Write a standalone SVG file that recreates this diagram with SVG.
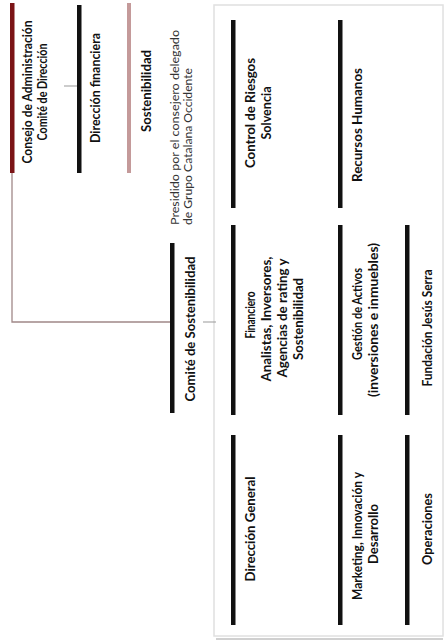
<svg xmlns="http://www.w3.org/2000/svg" width="445" height="642" viewBox="0 0 445 642">
<style>
text{font-family:Lato,"Open Sans","Liberation Sans",sans-serif;fill:#111;text-anchor:middle}
.b{font-weight:bold;font-size:13px}
.r{font-size:11.5px;text-anchor:start;fill:#333}
.bar{fill:#111}
.conn{stroke:#a08888;stroke-width:1.3;fill:none}
.tick{stroke:#999;stroke-width:1;fill:none}
</style>
<rect x="0" y="0" width="445" height="642" fill="#fff"/>
<g id="frame">
<rect x="214" y="5" width="229" height="631" fill="none" stroke="#e0e0e0" stroke-width="1.5"/>
<line x1="216" y1="639" x2="443" y2="639" stroke="#d0d0d0" stroke-width="2"/>
</g>
<g id="connectors">
<polyline class="conn" points="12,173 12,322 172,322"/>
<line class="tick" x1="64" y1="86" x2="78" y2="86"/>
<line class="tick" x1="203" y1="322" x2="216" y2="322"/>
</g>
<g id="consejo">
<rect x="10" y="3" width="4.5" height="170" fill="#7b1416"/>
<text class="b" transform="translate(31.5,92) rotate(-90)" textLength="143" lengthAdjust="spacingAndGlyphs">Consejo de Administración</text>
<text class="b" transform="translate(46.5,92) rotate(-90)" textLength="97" lengthAdjust="spacingAndGlyphs">Comité de Dirección</text>
</g>
<g id="direccion-financiera">
<rect class="bar" x="77" y="5" width="4.5" height="168"/>
<text class="b" transform="translate(99.5,88) rotate(-90)" textLength="110" lengthAdjust="spacingAndGlyphs">Dirección financiera</text>
</g>
<g id="sostenibilidad">
<rect x="127" y="3" width="4" height="170" fill="#c49a9a"/>
<text class="b" transform="translate(150.5,91) rotate(-90)" textLength="82" lengthAdjust="spacingAndGlyphs">Sostenibilidad</text>
</g>
<g id="presidido">
<text class="r" transform="translate(179,225) rotate(-90)" textLength="195" lengthAdjust="spacingAndGlyphs">Presidido por el consejero delegado</text>
<text class="r" transform="translate(192,225) rotate(-90)" textLength="157" lengthAdjust="spacingAndGlyphs">de Grupo Catalana Occidente</text>
</g>
<g id="comite-sostenibilidad">
<rect class="bar" x="170" y="243" width="4.5" height="170"/>
<text class="b" transform="translate(194.5,329) rotate(-90)" textLength="145" lengthAdjust="spacingAndGlyphs">Comité de Sostenibilidad</text>
</g>
<g id="control-riesgos">
<rect class="bar" x="231" y="20" width="4.5" height="188"/>
<text class="b" transform="translate(254.5,113) rotate(-90)" textLength="110" lengthAdjust="spacingAndGlyphs">Control de Riesgos</text>
<text class="b" transform="translate(270.5,113) rotate(-90)" textLength="53" lengthAdjust="spacingAndGlyphs">Solvencia</text>
</g>
<g id="recursos-humanos">
<rect class="bar" x="338" y="20" width="4.5" height="188"/>
<text class="b" transform="translate(361.5,125) rotate(-90)" textLength="114" lengthAdjust="spacingAndGlyphs">Recursos Humanos</text>
</g>
<g id="financiero">
<rect class="bar" x="231" y="225" width="4.5" height="190"/>
<text class="b" transform="translate(254.5,315) rotate(-90)" textLength="47" lengthAdjust="spacingAndGlyphs">Financiero</text>
<text class="b" transform="translate(270.5,319) rotate(-90)" textLength="125" lengthAdjust="spacingAndGlyphs">Analistas, Inversores,</text>
<text class="b" transform="translate(286.5,318) rotate(-90)" textLength="119" lengthAdjust="spacingAndGlyphs">Agencias de rating y</text>
<text class="b" transform="translate(302.5,319) rotate(-90)" textLength="82" lengthAdjust="spacingAndGlyphs">Sostenibilidad</text>
</g>
<g id="gestion-activos">
<rect class="bar" x="338" y="225" width="4.5" height="190"/>
<text class="b" transform="translate(361.5,314) rotate(-90)" textLength="92" lengthAdjust="spacingAndGlyphs">Gestión de Activos</text>
<text class="b" transform="translate(377.5,320) rotate(-90)" textLength="154" lengthAdjust="spacingAndGlyphs">(inversiones e inmuebles)</text>
</g>
<g id="fundacion">
<rect class="bar" x="405" y="225" width="4.5" height="190"/>
<text class="b" transform="translate(431.5,328) rotate(-90)" textLength="117" lengthAdjust="spacingAndGlyphs">Fundación Jesús Serra</text>
</g>
<g id="direccion-general">
<rect class="bar" x="231" y="435" width="4.5" height="190"/>
<text class="b" transform="translate(254.5,529) rotate(-90)" textLength="105" lengthAdjust="spacingAndGlyphs">Dirección General</text>
</g>
<g id="marketing">
<rect class="bar" x="338" y="435" width="4.5" height="190"/>
<text class="b" transform="translate(361.5,536) rotate(-90)" textLength="128" lengthAdjust="spacingAndGlyphs">Marketing, Innovación y</text>
<text class="b" transform="translate(377.5,534) rotate(-90)" textLength="60" lengthAdjust="spacingAndGlyphs">Desarrollo</text>
</g>
<g id="operaciones">
<rect class="bar" x="405" y="435" width="4.5" height="190"/>
<text class="b" transform="translate(431.5,529) rotate(-90)" textLength="72" lengthAdjust="spacingAndGlyphs">Operaciones</text>
</g>
</svg>
